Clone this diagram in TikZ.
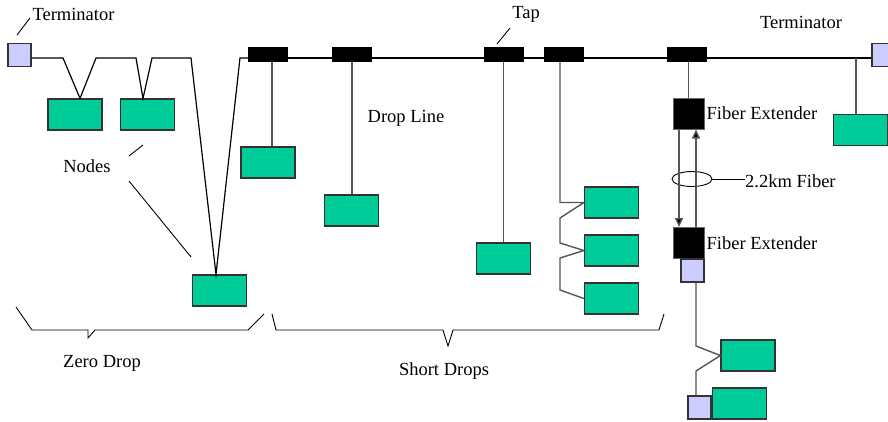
\documentclass[tikz,border=0pt]{standalone}
\usepackage{fontspec}
\setmainfont{Liberation Serif}
\usetikzlibrary{positioning,arrows.meta,shapes,backgrounds}
\definecolor{nodegreen}{RGB}{0,204,153}
\definecolor{termblue}{RGB}{204,204,255}
\definecolor{dropgray}{RGB}{85,85,85}

\begin{document}
\begin{tikzpicture}[x=1pt,y=-1pt,
    station/.style={draw=black!80, fill=nodegreen, line width=1.2pt, minimum width=54pt, minimum height=31pt, inner sep=0pt},
    tap/.style={fill=black, minimum width=40pt, minimum height=15pt, inner sep=0pt},
    term/.style={draw=black!80, fill=termblue, line width=1.2pt, minimum size=23pt, inner sep=0pt},
    extender/.style={draw=black!60, fill=black, line width=1pt, minimum size=31pt, inner sep=0pt},
    lbl/.style={font=\fontsize{18.5}{22}\selectfont, inner sep=0pt},
    drop/.style={draw=dropgray, line width=1.4pt},
    bus/.style={draw=black, line width=1.2pt}]

    \useasboundingbox (0,0) rectangle (888,421);

    % Define the nodes
    \coordinate (busY) at (0,58);
    \node[term] (termL) at (19.5,55) {};
    \node[term] (termR) at (883.5,55) {};
    \node[tap] (tap1) at (268,54.5) {};
    \node[tap] (tap2) at (352,54.5) {};
    \node[tap] (tap3) at (503.5,54.5) {};
    \node[tap] (tap4) at (564,54.5) {};
    \node[tap] (tap5) at (687,54.5) {};

    \node[station] (node1) at (75,114.5) {};
    \node[station] (node2) at (147.5,114.5) {};
    \node[station] (node3) at (219.5,290.5) {};
    \node[station] (node4) at (268,162.5) {};
    \node[station] (node5) at (351.5,210.5) {};
    \node[station] (node6) at (503.5,258.5) {};
    \node[station] (node7) at (611.5,202.5) {};
    \node[station] (node8) at (611.5,250.5) {};
    \node[station] (node9) at (611.5,298.5) {};
    \node[station] (node10) at (860.5,130) {};
    \node[station] (node11) at (748,355.5) {};
    \node[station] (node12) at (739.5,403.5) {};

    \node[extender] (fe1) at (688.5,113.5) {};
    \node[extender] (fe2) at (688.5,243) {};
    \node[term] (termF) at (692.5,270.5) {};
    \node[term] (termB) at (699.5,407.5) {};
    \node[draw, ellipse, line width=0.9pt, minimum width=40pt, minimum height=15pt, inner sep=0pt] (ring) at (692,179) {};

    % Labels
    \node[lbl] (termLtxt) at (73.5,14) {Terminator};
    \node[lbl] (termRtxt) at (801,22) {Terminator};
    \node[lbl] (taptxt) at (526,14) {Tap};
    \node[lbl] (nodestxt) at (87,166) {Nodes};
    \node[lbl] (droptxt) at (406,118) {Drop Line};
    \node[lbl, right=2pt of fe1] (fe1txt) {Fiber Extender};
    \node[lbl, right=2pt of fe2] (fe2txt) {Fiber Extender};
    \node[lbl, anchor=west] (fibertxt) at (745,181) {2.2km Fiber};
    \node[lbl] (zerotxt) at (102,363) {Zero Drop};
    \node[lbl] (shorttxt) at (444,371) {Short Drops};

    % Draw the bus
    \begin{pgfonlayer}{background}
        \draw[bus] (tap1.west |- busY) -- (termR.west |- busY);
    \end{pgfonlayer}
    \draw[bus] (termL.east |- busY) -- (63,58) -- ([xshift=5pt]node1.north) -- (96,58) -- (136,58)
        -- ([xshift=-4.5pt]node2.north) -- (152,58) -- (191,58) -- ([xshift=-3.5pt]node3.north)
        -- (240,58) -- (tap1.west |- busY);

    % Drop lines
    \draw[drop] ([xshift=4pt]tap1.south) -- ([xshift=4pt]node4.north);
    \draw[drop] (tap2.south) -- (tap2.south |- node5.north);
    \draw[drop] (tap3.south) -- (tap3.south |- node6.north);
    \draw[drop] ([xshift=-4pt]tap4.south) |- (node7.west) -- (560,218) -- (560,243) -- (node8.west)
        -- (560,258) -- (560,290) -- (node9.west);
    \draw[drop] (fe1.north |- tap5.south) -- (fe1.north);
    \draw[drop] ([xshift=-4.5pt]node10.north |- busY) -- ([xshift=-4.5pt]node10.north);

    % Fiber link
    \draw[drop, -{Triangle[length=9pt, width=8pt, fill=black]}] ([xshift=-9.5pt]fe1.south) -- ([xshift=-9.5pt]fe2.north);
    \draw[drop, -{Triangle[length=9pt, width=8pt, fill=black]}] ([xshift=7.5pt]fe2.north) -- ([xshift=7.5pt]fe1.south);
    \draw[line width=0.9pt] (ring.east) -- (fibertxt.west |- ring.east);
    \draw[drop] ([xshift=3.5pt]termF.south) -- (696,346) -- (node11.west) -- (696,371) -- ([xshift=-3.5pt]termB.north);

    % Leaders
    \draw[line width=0.9pt] (17,35) -- (30,18);
    \draw[line width=0.9pt] (497,44) -- (510,28);
    \draw[line width=0.9pt] (129,156) -- (143,145);
    \draw[line width=0.9pt] (129,181) -- (191,257);

    % Braces
    \draw[line width=0.9pt] (16,307) -- (32,330) -- (88,330) -- (88,338) -- (95,330) -- (248,330) -- (264,314);
    \draw[line width=0.9pt] (272,314) -- (276,330) -- (443,330) -- (448,346) -- (453,330) -- (659,330) -- (664,314);
\end{tikzpicture}
\end{document}
